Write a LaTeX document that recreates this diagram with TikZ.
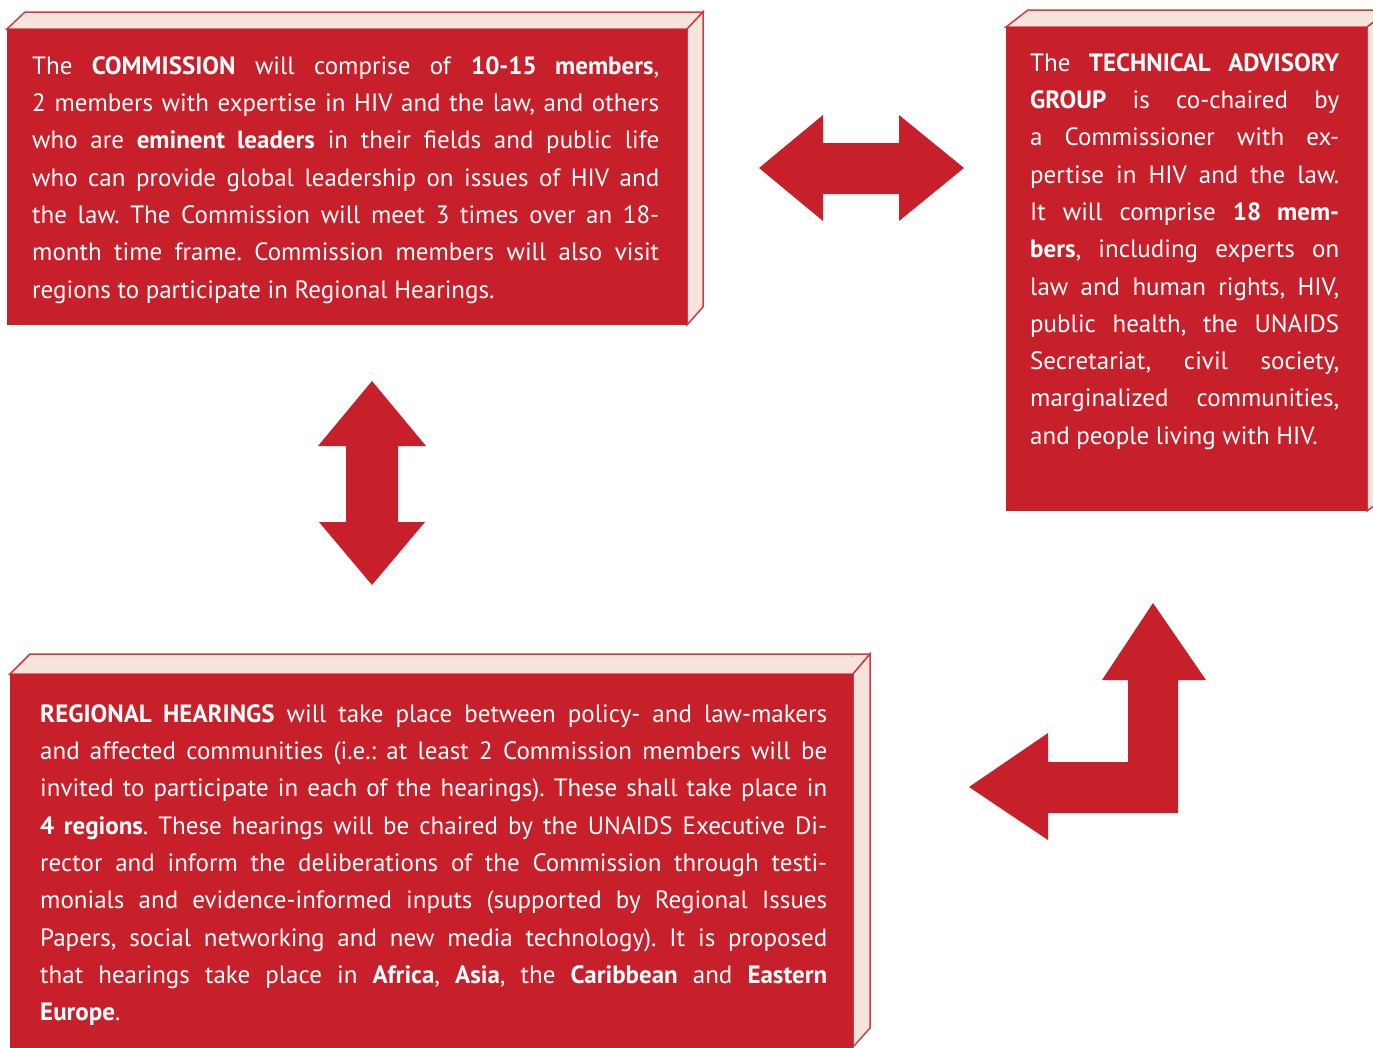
\documentclass[tikz,border=0pt]{standalone}
\usepackage{fontspec}
\setmainfont{PT Sans}
\definecolor{boxred}{HTML}{C8202A}
\definecolor{boxpink}{HTML}{F7E4DD}
\definecolor{edgered}{HTML}{D13A40}
\newcommand{\boxfont}{\fontsize{25}{37.3}\selectfont\frenchspacing\hyphenpenalty=10000\relax\exhyphenpenalty=10000\relax}
\newcommand{\firststrut}{\rule{0pt}{22pt}}
\begin{document}
\begin{tikzpicture}[x=1pt,y=-1pt,
  frontface/.style={fill=boxred},
  sideface/.style={fill=boxpink,draw=edgered,line width=1.5pt,line join=miter},
  blockarrow/.style={fill=boxred},
  boxtext/.style={anchor=north west,inner sep=0pt,text=white,align=justify,font=\boxfont}]
\useasboundingbox (0,0) rectangle (1373,1047);

% Box 1: Commission
\draw[sideface] (7,29) -- (25,12) -- (703,12) -- (687,29) -- cycle;
\draw[sideface] (687,29) -- (703,12) -- (703,307) -- (687,325) -- cycle;
\fill[frontface] (7,29) rectangle (687,325);

% Box 2: Technical Advisory Group
\draw[sideface] (1006,27) -- (1028,10) -- (1390,10) -- (1367,27) -- cycle;
\draw[sideface] (1367,27) -- (1390,10) -- (1390,494) -- (1367,511) -- cycle;
\fill[frontface] (1006,27) rectangle (1367,511);

% Box 3: Regional Hearings
\draw[sideface] (10,674) -- (30,654) -- (870,654) -- (853,674) -- cycle;
\draw[sideface] (853,674) -- (870,654) -- (870,1028) -- (853,1047) -- cycle;
\fill[frontface] (10,674) rectangle (853,1050);

% Texts
\node[boxtext,text width=627pt] (comm) at (32,52) {\firststrut The \textbf{COMMISSION} will comprise of \textbf{10-15 members},\linebreak
2 members with expertise in HIV and the law, and others\linebreak
who are \textbf{eminent leaders} in their fields and public life\linebreak
who can provide global leadership on issues of HIV and\linebreak
the law. The Commission will meet 3 times over an 18-\linebreak
month time frame. Commission members will also visit\linebreak
regions to participate in Regional Hearings.};

\node[boxtext,text width=309pt] (tag) at (1030,49) {\firststrut The \textbf{TECHNICAL ADVISORY}\linebreak
\textbf{GROUP} is co-chaired by\linebreak
a Commissioner with ex-\linebreak
pertise in HIV and the law.\linebreak
It will comprise \textbf{18 mem-}\linebreak
\textbf{bers}, including experts on\linebreak
law and human rights, HIV,\linebreak
public health, the UNAIDS\linebreak
Secretariat, civil society,\linebreak
marginalized communities,\linebreak
and people living with HIV.};

\node[boxtext,text width=787pt] (hear) at (40,700) {\firststrut\textbf{REGIONAL HEARINGS} will take place between policy- and law-makers\linebreak
and affected communities (i.e.: at least 2 Commission members will be\linebreak
invited to participate in each of the hearings). These shall take place in\linebreak
\textbf{4 regions}. These hearings will be chaired by the UNAIDS Executive Di-\linebreak
rector and inform the deliberations of the Commission through testi-\linebreak
monials and evidence-informed inputs (supported by Regional Issues\linebreak
Papers, social networking and new media technology). It is proposed\linebreak
that hearings take place in \textbf{Africa}, \textbf{Asia}, the \textbf{Caribbean} and \textbf{Eastern}\linebreak
\textbf{Europe}.};

% Horizontal double arrow
\fill[blockarrow] (759,168) -- (823,115) -- (823,143) -- (899,143) -- (899,115)
  -- (964,168) -- (899,221) -- (899,194) -- (823,194) -- (823,221) -- cycle;

% Vertical double arrow
\fill[blockarrow] (372,381) -- (426,446) -- (398,446) -- (398,522) -- (425,522)
  -- (372,585) -- (319,522) -- (346,522) -- (346,446) -- (318,446) -- cycle;

% L-shaped arrow
\fill[blockarrow] (1153,603) -- (1206,680) -- (1178,680) -- (1178,813) -- (1048,813)
  -- (1048,840) -- (969,787) -- (1048,733) -- (1048,762) -- (1128,762)
  -- (1128,680) -- (1102,680) -- cycle;
\end{tikzpicture}
\end{document}
